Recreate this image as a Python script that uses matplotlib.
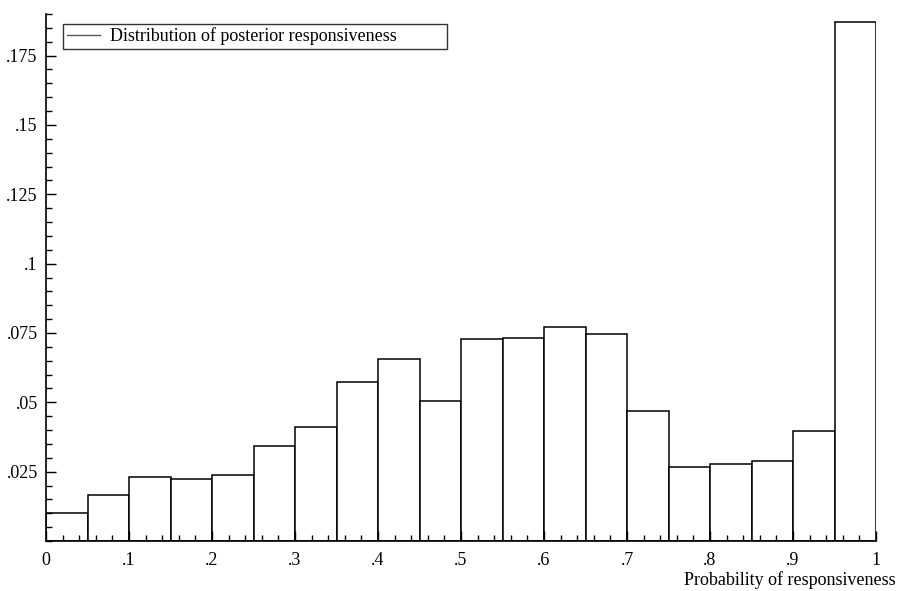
import matplotlib
matplotlib.use("Agg")
import matplotlib.pyplot as plt
from matplotlib.lines import Line2D
from matplotlib.ticker import MultipleLocator, FixedLocator

bin_edges = [i / 20 for i in range(21)]
heights = [0.0102, 0.0165, 0.0232, 0.0225, 0.0237, 0.0342, 0.0412, 0.0574, 0.0656, 0.0506,
           0.0728, 0.0732, 0.0770, 0.0748, 0.0469, 0.0268, 0.0278, 0.0289, 0.0397, 0.1871]
x_ticks = [0, 0.1, 0.2, 0.3, 0.4, 0.5, 0.6, 0.7, 0.8, 0.9, 1.0]
x_labels = ["0", ".1", ".2", ".3", ".4", ".5", ".6", ".7", ".8", ".9", "1"]
y_ticks = [0.025, 0.05, 0.075, 0.1, 0.125, 0.15, 0.175]
y_labels = [".025", ".05", ".075", ".1", ".125", ".15", ".175"]
legend_label = "Distribution of posterior responsiveness"
x_title = "Probability of responsiveness"

plt.rcParams['font.family'] = ['Liberation Serif', 'DejaVu Serif']

fig = plt.figure(figsize=(8.98, 5.91), dpi=100)
ax = fig.add_axes([46/898, 50/591, 830/898, 527/591])

lefts = bin_edges[:-1]
widths = [bin_edges[i+1] - bin_edges[i] for i in range(len(heights))]
ax.bar(lefts, heights, width=widths, align='edge', color='white', edgecolor='black', linewidth=1.1)

ax.set_xlim(0, 1)
ax.set_ylim(0, 0.19)
ax.spines['top'].set_visible(False)
ax.spines['right'].set_visible(False)
for s in ['left', 'bottom']:
    ax.spines[s].set_linewidth(1.2)

ax.xaxis.set_major_locator(FixedLocator(x_ticks))
ax.set_xticklabels(x_labels)
ax.xaxis.set_minor_locator(MultipleLocator(0.02))
ax.yaxis.set_major_locator(FixedLocator(y_ticks))
ax.set_yticklabels(y_labels)
ax.yaxis.set_minor_locator(MultipleLocator(0.005))
ax.tick_params(axis='both', which='major', direction='in', length=7, width=1, labelsize=13, pad=6)
ax.tick_params(axis='x', which='major', pad=8)
ax.tick_params(axis='both', which='minor', direction='in', length=4, width=1)

fig.text(896/898, 1 - 585/591, x_title, ha='right', va='baseline', fontsize=13)

handle = Line2D([0], [0], color='#555555', linewidth=1.0)
leg = ax.legend([handle], [legend_label], loc='upper left',
                bbox_to_anchor=(17/830, 1 - 37/527, 384/830, 27/527), mode='expand',
                frameon=True, fancybox=False, fontsize=13, handlelength=1.85, borderpad=0.2,
                handletextpad=0.55, borderaxespad=0)
leg.get_frame().set_edgecolor('black')
leg.get_frame().set_linewidth(1.0)

fig.savefig("out.png", dpi=100)
